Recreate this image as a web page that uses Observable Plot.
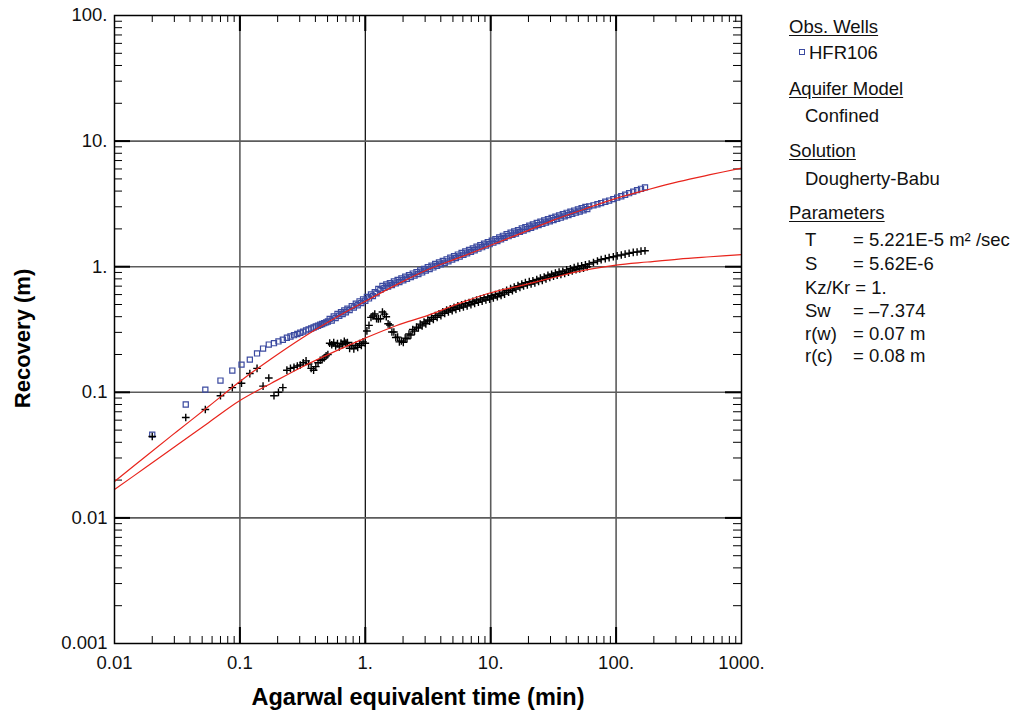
<!DOCTYPE html>
<html><head><meta charset="utf-8">
<script src="https://cdn.jsdelivr.net/npm/d3@7"></script>
<script src="https://cdn.jsdelivr.net/npm/@observablehq/plot@0.6"></script>
<style>
body{margin:0;background:#fff;font-family:"Liberation Sans",Arial,sans-serif;}
#wrap{position:relative;width:1021px;height:715px;}
#legend{position:absolute;left:789px;top:0;font-size:18.5px;color:#111;}
#legend .l{position:absolute;white-space:nowrap;line-height:20px;}
#legend .u{text-decoration:underline;text-underline-offset:2px;}
#legend .k{display:inline-block;width:48px;}
#legend .sq{display:inline-block;width:4px;height:4px;border:1px solid #3b4aa0;margin-right:4px;vertical-align:middle;position:relative;top:-2px;}
</style></head><body><div id="wrap"><div id="legend"></div></div>
<script>
// ---- data ----
const times = [
  0.020, 0.037, 0.053, 0.070, 0.087, 0.103, 0.120, 0.137, 0.153, 0.170,
  0.187, 0.203, 0.220, 0.237, 0.253, 0.270, 0.287, 0.303, 0.320, 0.337,
  0.353, 0.370, 0.387, 0.403, 0.420, 0.437, 0.453, 0.470, 0.487, 0.503,
  0.52, 0.54, 0.56, 0.58, 0.60, 0.62, 0.64, 0.66, 0.68, 0.70,
  0.72, 0.75, 0.78, 0.81, 0.84, 0.87, 0.90, 0.93, 0.96, 1.00,
  1.03, 1.07, 1.11, 1.15, 1.19, 1.23, 1.27, 1.32, 1.37, 1.42,
  1.47, 1.52, 1.57, 1.63, 1.69, 1.75, 1.81, 1.87, 1.94, 2.01,
  2.08, 2.15, 2.23, 2.31, 2.39, 2.47, 2.56, 2.65, 2.74, 2.84,
  2.94, 3.04, 3.15, 3.26, 3.37, 3.49, 3.61, 3.74, 3.87, 4.01,
  4.15, 4.30, 4.45, 4.60, 4.76, 4.93, 5.10, 5.28, 5.47, 5.66,
  5.86, 6.06, 6.27, 6.49, 6.72, 6.96, 7.20, 7.45, 7.71, 7.98,
  8.26, 8.55, 8.85, 9.16, 9.48, 9.81, 10.2, 10.5, 10.9, 11.3,
  11.7, 12.1, 12.5, 12.9, 13.4, 13.9, 14.4, 14.9, 15.4, 15.9,
  16.5, 17.1, 17.7, 18.3, 18.9, 19.6, 20.3, 21.0, 21.7, 22.5,
  23.3, 24.1, 24.9, 25.8, 26.7, 27.6, 28.6, 29.6, 30.6, 31.7,
  32.8, 33.9, 35.1, 36.3, 37.6, 38.9, 40.3, 41.7, 43.2, 44.7,
  46.3, 47.9, 49.6, 51.3, 53.1, 55.0, 56.9, 58.9, 61.0,
  66, 71, 76, 82, 88, 95, 102, 110, 118, 127, 137, 147, 158, 170
];
const hfr106 = [
  0.046, 0.080, 0.105, 0.124, 0.149, 0.166, 0.182, 0.204, 0.223, 0.240,
  0.246, 0.254, 0.262, 0.272, 0.278, 0.285, 0.291, 0.298, 0.304, 0.311,
  0.317, 0.322, 0.328, 0.334, 0.339, 0.345, 0.350, 0.355, 0.360, 0.366,
  0.384, 0.373, 0.402, 0.390, 0.420, 0.407, 0.435, 0.420, 0.449, 0.434,
  0.463, 0.451, 0.486, 0.473, 0.508, 0.493, 0.530, 0.514, 0.550, 0.536,
  0.574, 0.559, 0.601, 0.583, 0.626, 0.614, 0.666, 0.653, 0.702, 0.678,
  0.723, 0.696, 0.741, 0.715, 0.762, 0.736, 0.784, 0.756, 0.807, 0.780,
  0.832, 0.802, 0.857, 0.827, 0.882, 0.849, 0.906, 0.875, 0.932, 0.900,
  0.960, 0.931, 0.992, 0.956, 1.019, 0.987, 1.052, 1.015, 1.082, 1.044,
  1.113, 1.074, 1.145, 1.104, 1.181, 1.139, 1.215, 1.172, 1.249, 1.205,
  1.285, 1.243, 1.324, 1.277, 1.361, 1.313, 1.400, 1.351, 1.441, 1.392,
  1.482, 1.430, 1.525, 1.472, 1.568, 1.511, 1.612, 1.553, 1.658, 1.602,
  1.710, 1.653, 1.761, 1.697, 1.812, 1.750, 1.863, 1.794, 1.910, 1.838,
  1.958, 1.892, 2.016, 1.940, 2.065, 1.994, 2.122, 2.043, 2.173, 2.096,
  2.229, 2.145, 2.281, 2.194, 2.337, 2.247, 2.388, 2.296, 2.445, 2.350,
  2.501, 2.403, 2.557, 2.457, 2.614, 2.516, 2.686, 2.579, 2.737, 2.633,
  2.798, 2.691, 2.860, 2.750, 2.921, 2.808, 2.988, 2.876, 3.02,
  3.08, 3.14, 3.21, 3.29, 3.36, 3.45, 3.55, 3.64, 3.74, 3.85, 3.96, 4.07, 4.17, 4.28
];
const second = [
  0.0445, 0.063, 0.073, 0.094, 0.109, 0.118, 0.141, 0.155, 0.112, 0.130,
  0.094, 0.100, 0.109, 0.150, 0.155, 0.158, 0.162, 0.165, 0.172, 0.178,
  0.168, 0.155, 0.150, 0.160, 0.172, 0.180, 0.182, 0.188, 0.195, 0.200,
  0.246, 0.239, 0.249, 0.234, 0.244, 0.230, 0.246, 0.239, 0.255, 0.246,
  0.249, 0.224, 0.235, 0.222, 0.237, 0.228, 0.244, 0.236, 0.252, 0.246,
  0.308, 0.341, 0.395, 0.405, 0.420, 0.385, 0.384, 0.385, 0.436, 0.419,
  0.400, 0.351, 0.343, 0.302, 0.302, 0.273, 0.275, 0.252, 0.256, 0.250,
  0.270, 0.267, 0.291, 0.286, 0.316, 0.307, 0.330, 0.325, 0.349, 0.338,
  0.363, 0.351, 0.376, 0.369, 0.394, 0.381, 0.408, 0.395, 0.421, 0.408,
  0.437, 0.425, 0.452, 0.436, 0.461, 0.447, 0.475, 0.458, 0.488, 0.469,
  0.497, 0.478, 0.508, 0.488, 0.518, 0.498, 0.531, 0.511, 0.543, 0.521,
  0.552, 0.532, 0.566, 0.543, 0.574, 0.552, 0.587, 0.564, 0.600, 0.577,
  0.613, 0.590, 0.627, 0.605, 0.648, 0.626, 0.668, 0.644, 0.687, 0.663,
  0.707, 0.683, 0.728, 0.702, 0.747, 0.717, 0.761, 0.728, 0.772, 0.743,
  0.791, 0.762, 0.810, 0.777, 0.828, 0.800, 0.854, 0.822, 0.871, 0.839,
  0.890, 0.856, 0.907, 0.869, 0.920, 0.885, 0.943, 0.904, 0.962, 0.926,
  0.982, 0.946, 1.005, 0.962, 1.018, 0.975, 1.035, 0.999, 1.05,
  1.08, 1.11, 1.14, 1.16, 1.18, 1.20, 1.22, 1.24, 1.26, 1.28, 1.30, 1.31, 1.33, 1.34
];
const fitTimes = [0.01, 0.0178, 0.0316, 0.0562, 0.1, 0.178, 0.316, 0.562, 1, 1.78, 3.16, 5.62, 10, 17.8, 31.6, 56.2, 100, 178, 316, 562, 1000];
const fitUpper = [0.0195, 0.031, 0.049, 0.077, 0.122, 0.185, 0.272, 0.385, 0.53, 0.72, 0.95, 1.18, 1.48, 1.86, 2.35, 2.88, 3.5, 4.1, 4.75, 5.4, 6.1];
const fitLower = [0.0168, 0.0253, 0.0381, 0.0573, 0.086, 0.118, 0.160, 0.21, 0.27, 0.34, 0.41, 0.51, 0.62, 0.71, 0.82, 0.94, 1.03, 1.09, 1.15, 1.20, 1.25];
const xTicks = [0.01, 0.1, 1, 10, 100, 1000];
const xTickLabels = ["0.01", "0.1", "1.", "10.", "100.", "1000."];
const yTicks = [0.001, 0.01, 0.1, 1, 10, 100];
const yTickLabels = ["0.001", "0.01", "0.1", "1.", "10.", "100."];
const legendLines = [
  ["Obs. Wells", "h"], ["HFR106", "w"], ["Aquifer Model", "h"], ["Confined", "i"],
  ["Solution", "h"], ["Dougherty-Babu", "i"], ["Parameters", "h"],
  ["T|= 5.221E-5 m² /sec", "p"], ["S|= 5.62E-6", "p"], ["Kz/Kr = 1.", "i"],
  ["Sw|= \u20137.374", "p"], ["r(w)|= 0.07 m", "p"], ["r(c)|= 0.08 m", "p"]
];
const legendY = [27, 53, 89, 116, 151, 179, 213, 240, 264, 288, 311, 334, 356];

// ---- build ----
const obs = times.map((t, i) => ({t, v: hfr106[i]}));
const obs2 = times.map((t, i) => ({t, v: second[i]}));
const fitA = fitTimes.map((t, i) => ({t, v: fitUpper[i]}));
const fitB = fitTimes.map((t, i) => ({t, v: fitLower[i]}));
const minor = (lo, hi) => { const a = []; for (let d = lo; d < hi * 0.99; d *= 10) for (let m = 2; m <= 9; m++) a.push(+(d * m).toPrecision(3)); return a; };
const minorX = minor(0.01, 1000), minorY = minor(0.001, 100);
const innerX = xTicks.slice(1, -1), innerY = yTicks.slice(1, -1);
const W = 627, H = 628;

const chart = Plot.plot({
  width: 1021, height: 715,
  marginLeft: 114, marginRight: 280, marginTop: 15, marginBottom: 72,
  x: {type: "log", domain: [0.01, 1000]},
  y: {type: "log", domain: [0.001, 100]},
  style: {fontFamily: "'Liberation Sans', Arial, sans-serif", fontSize: "18.5px", background: "white", color: "#111"},
  marks: [
    Plot.ruleX(innerX.filter(d => d !== 1), {stroke: "#5c5c5c", strokeWidth: 1.6}),
    Plot.ruleX([1], {stroke: "#000", strokeWidth: 1.2}),
    Plot.ruleY(innerY, {stroke: "#5c5c5c", strokeWidth: 1.6}),
    Plot.tickX(minorX, {x: d => d, insetTop: H - 7, stroke: "#000", strokeWidth: 1}),
    Plot.tickX(minorX, {x: d => d, insetBottom: H - 7, stroke: "#000", strokeWidth: 1}),
    Plot.tickY(minorY, {y: d => d, insetRight: W - 8, stroke: "#000", strokeWidth: 1}),
    Plot.tickY(minorY, {y: d => d, insetLeft: W - 8, stroke: "#000", strokeWidth: 1}),
    Plot.tickX(innerX, {x: d => d, insetTop: H - 16, stroke: "#000", strokeWidth: 2}),
    Plot.tickX(innerX, {x: d => d, insetBottom: H - 16, stroke: "#000", strokeWidth: 2}),
    Plot.tickY(innerY, {y: d => d, insetRight: W - 16, stroke: "#000", strokeWidth: 2}),
    Plot.tickY(innerY, {y: d => d, insetLeft: W - 16, stroke: "#000", strokeWidth: 2}),
    Plot.dot(obs, {x: "t", y: "v", symbol: "square", r: 2.9, fill: "none", stroke: "#3b4aa0", strokeWidth: 1.2}),
    Plot.dot(obs2, {x: "t", y: "v", symbol: "plus", r: 2.6, stroke: "#000", strokeWidth: 1.4}),
    Plot.line(fitA, {x: "t", y: "v", stroke: "#e8241c", strokeWidth: 1.2, curve: "catmull-rom"}),
    Plot.line(fitB, {x: "t", y: "v", stroke: "#e8241c", strokeWidth: 1.2, curve: "catmull-rom"}),
    Plot.frame({stroke: "#000", strokeWidth: 1.5}),
    Plot.axisX(xTicks, {tickFormat: d => xTickLabels[xTicks.indexOf(d)], tickSize: 0, tickPadding: 12, fontSize: 18.5, label: null}),
    Plot.axisY(yTicks, {tickFormat: d => yTickLabels[yTicks.indexOf(d)], tickSize: 0, tickPadding: 7, fontSize: 18.5, label: null}),
    Plot.text(["Agarwal equivalent time (min)"], {frameAnchor: "bottom", lineAnchor: "middle", textAnchor: "middle", dx: -10, dy: 54, fontSize: 23.5, fontWeight: "bold", fill: "#000"}),
    Plot.text(["Recovery (m)"], {frameAnchor: "left", lineAnchor: "middle", textAnchor: "middle", dx: -92, dy: 9, rotate: -90, fontSize: 22, fontWeight: "bold", fill: "#000"})
  ]
});
document.getElementById("wrap").prepend(chart);

const lg = document.getElementById("legend");
legendLines.forEach(([txt, kind], i) => {
  const d = document.createElement("div");
  d.className = "l";
  d.style.top = (legendY[i] - 10) + "px";
  if (kind === "h") { d.innerHTML = `<span class="u">${txt}</span>`; d.style.left = "0px"; }
  else if (kind === "w") { d.innerHTML = `<span class="sq"></span>${txt}`; d.style.left = "10px"; }
  else if (kind === "i") { d.textContent = txt; d.style.left = "16px"; }
  else { const [a, b] = txt.split("|"); d.innerHTML = `<span class="k">${a}</span>${b}`; d.style.left = "16px"; }
  lg.appendChild(d);
});
</script>
</body></html>
